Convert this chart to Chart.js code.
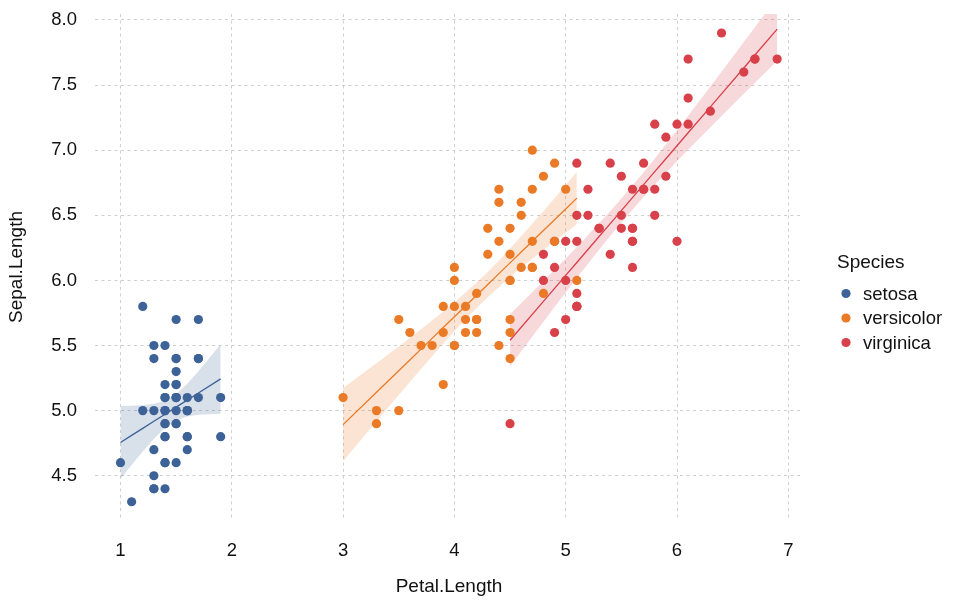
<!DOCTYPE html>
<html>
<head>
<meta charset="utf-8">
<script src="https://cdn.jsdelivr.net/npm/chart.js@4.4.1/dist/chart.umd.min.js"></script>
<style>
  html, body { margin: 0; padding: 0; background: #ffffff; }
  #wrap { width: 960px; height: 600px; }
</style>
</head>
<body>
<div id="wrap"><canvas id="c" width="960" height="600"></canvas></div>
<script>
// ---- Data (iris: Petal.Length vs Sepal.Length) ----
const species = ['setosa', 'versicolor', 'virginica'];
const speciesColors = ['#3d6297', '#eb7a26', '#d8404a'];

const setosaPetal = [1.4,1.4,1.3,1.5,1.4,1.7,1.4,1.5,1.4,1.5,1.5,1.6,1.4,1.1,1.2,1.5,1.3,1.4,1.7,1.5,1.7,1.5,1.0,1.7,1.9,1.6,1.6,1.5,1.4,1.6,1.6,1.5,1.5,1.4,1.5,1.2,1.3,1.4,1.3,1.5,1.3,1.3,1.3,1.6,1.9,1.4,1.6,1.4,1.5,1.4];
const setosaSepal = [5.1,4.9,4.7,4.6,5.0,5.4,4.6,5.0,4.4,4.9,5.4,4.8,4.8,4.3,5.8,5.7,5.4,5.1,5.7,5.1,5.4,5.1,4.6,5.1,4.8,5.0,5.0,5.2,5.2,4.7,4.8,5.4,5.2,5.5,4.9,5.0,5.5,4.9,4.4,5.1,5.0,4.5,4.4,5.0,5.1,4.8,5.1,4.6,5.3,5.0];

const versicolorPetal = [4.7,4.5,4.9,4.0,4.6,4.5,4.7,3.3,4.6,3.9,3.5,4.2,4.0,4.7,3.6,4.4,4.5,4.1,4.5,3.9,4.8,4.0,4.9,4.7,4.3,4.4,4.8,5.0,4.5,3.5,3.8,3.7,3.9,5.1,4.5,4.5,4.7,4.4,4.1,4.0,4.4,4.6,4.0,3.3,4.2,4.2,4.2,4.3,3.0,4.1];
const versicolorSepal = [7.0,6.4,6.9,5.5,6.5,5.7,6.3,4.9,6.6,5.2,5.0,5.9,6.0,6.1,5.6,6.7,5.6,5.8,6.2,5.6,5.9,6.1,6.3,6.1,6.4,6.6,6.8,6.7,6.0,5.7,5.5,5.5,5.8,6.0,5.4,6.0,6.7,6.3,5.6,5.5,5.5,6.1,5.8,5.0,5.6,5.7,5.7,6.2,5.1,5.7];

const virginicaPetal = [6.0,5.1,5.9,5.6,5.8,6.6,4.5,6.3,5.8,6.1,5.1,5.3,5.5,5.0,5.1,5.3,5.5,6.7,6.9,5.0,5.7,4.9,6.7,4.9,5.7,6.0,4.8,4.9,5.6,5.8,6.1,6.4,5.6,5.1,5.6,6.1,5.6,5.5,4.8,5.4,5.6,5.1,5.1,5.9,5.7,5.2,5.0,5.2,5.4,5.1];
const virginicaSepal = [6.3,5.8,7.1,6.3,6.5,7.6,4.9,7.3,6.7,7.2,6.5,6.4,6.8,5.7,5.8,6.4,6.5,7.7,7.7,6.0,6.9,5.6,7.7,6.3,6.7,7.2,6.2,6.1,6.4,7.2,7.4,7.9,6.4,6.3,6.1,7.7,6.3,6.4,6.0,6.9,6.7,6.9,5.8,6.8,6.7,6.7,6.3,6.5,6.2,5.9];

const xTickValues = [1, 2, 3, 4, 5, 6, 7];
const xTickLabels = ['1', '2', '3', '4', '5', '6', '7'];
const yTickValues = [4.5, 5.0, 5.5, 6.0, 6.5, 7.0, 7.5, 8.0];
const yTickLabels = ['4.5', '5.0', '5.5', '6.0', '6.5', '7.0', '7.5', '8.0'];

const xTitle = 'Petal.Length';
const yTitle = 'Sepal.Length';
const legendTitle = 'Species';

// t quantile (0.975, df = 48) for the 95% confidence band of lm fit
const tCrit = 2.0106;

const petals = [setosaPetal, versicolorPetal, virginicaPetal];
const sepals = [setosaSepal, versicolorSepal, virginicaSepal];

// ---- Linear fit (as geom_smooth(method = "lm")) computed from the data ----
function lmFit(xs, ys) {
  const n = xs.length;
  const mx = xs.reduce((a, b) => a + b, 0) / n;
  const my = ys.reduce((a, b) => a + b, 0) / n;
  let sxx = 0, sxy = 0;
  for (let i = 0; i < n; i++) { sxx += (xs[i] - mx) ** 2; sxy += (xs[i] - mx) * (ys[i] - my); }
  const b = sxy / sxx, a = my - b * mx;
  let rss = 0;
  for (let i = 0; i < n; i++) rss += (ys[i] - (a + b * xs[i])) ** 2;
  const s = Math.sqrt(rss / (n - 2));
  const grid = Array.from(new Set(xs)).sort((p, q) => p - q);
  const fit = [], upper = [], lower = [];
  grid.forEach(x => {
    const yh = a + b * x;
    const se = s * Math.sqrt(1 / n + (x - mx) ** 2 / sxx);
    fit.push({x: x, y: yh});
    upper.push({x: x, y: yh + tCrit * se});
    lower.push({x: x, y: yh - tCrit * se});
  });
  return {fit, upper, lower};
}

function hexA(hex, a) {
  const r = parseInt(hex.slice(1, 3), 16), g = parseInt(hex.slice(3, 5), 16), b = parseInt(hex.slice(5, 7), 16);
  return `rgba(${r},${g},${b},${a})`;
}

const datasets = [];
// points (drawn on top)
species.forEach((sp, i) => {
  datasets.push({
    type: 'scatter', label: sp,
    data: petals[i].map((x, k) => ({x: x, y: sepals[i][k]})),
    backgroundColor: speciesColors[i], borderColor: speciesColors[i],
    borderWidth: 0, pointRadius: 4.6, pointHoverRadius: 4.6, order: 0
  });
});
// fit lines + bands
species.forEach((sp, i) => {
  const m = lmFit(petals[i], sepals[i]);
  datasets.push({
    type: 'line', label: sp + ' fit', data: m.fit,
    borderColor: speciesColors[i], borderWidth: 1.3, pointRadius: 0, fill: false, tension: 0, order: 1
  });
  datasets.push({
    type: 'line', label: sp + ' upper', data: m.upper,
    borderWidth: 0, borderColor: 'rgba(0,0,0,0)', pointRadius: 0,
    backgroundColor: hexA(speciesColors[i], 0.2), fill: '+1', tension: 0, order: 2
  });
  datasets.push({
    type: 'line', label: sp + ' lower', data: m.lower,
    borderWidth: 0, borderColor: 'rgba(0,0,0,0)', pointRadius: 0, fill: false, tension: 0, order: 2
  });
});

const FONT = "'Liberation Sans', Arial, Helvetica, sans-serif";

const legendPlugin = {
  id: 'speciesLegend',
  afterDraw(chart) {
    const ctx = chart.ctx;
    ctx.save();
    ctx.fillStyle = '#111111';
    ctx.font = `19px ${FONT}`;
    ctx.textAlign = 'left';
    ctx.textBaseline = 'middle';
    ctx.fillText(legendTitle, 837, 263);
    species.forEach((sp, i) => {
      const y = 293.5 + i * 24.5;
      ctx.beginPath();
      ctx.fillStyle = speciesColors[i];
      ctx.arc(846, y, 4.6, 0, Math.PI * 2);
      ctx.fill();
      ctx.fillStyle = '#111111';
      ctx.font = `18.5px ${FONT}`;
      ctx.fillText(sp, 863, y + 1);
    });
    ctx.restore();
  }
};

new Chart(document.getElementById('c'), {
  type: 'scatter',
  data: { datasets },
  plugins: [legendPlugin],
  options: {
    responsive: false,
    animation: false,
    devicePixelRatio: 1,
    layout: { padding: { top: 14, right: 157, bottom: 0, left: 0 } },
    plugins: { legend: { display: false }, tooltip: { enabled: false } },
    scales: {
      x: {
        type: 'linear', min: 0.771, max: 7.132,
        afterBuildTicks: s => { s.ticks = xTickValues.map(v => ({value: v})); },
        afterFit: s => { s.height = 80; s.paddingLeft = 0; s.paddingRight = 0; },
        ticks: {
          padding: 20, color: '#111111', font: { family: FONT, size: 18.5 },
          callback: (v) => { const k = xTickValues.indexOf(v); return k >= 0 ? xTickLabels[k] : ''; },
          maxRotation: 0
        },
        grid: { color: '#cfcfcf', lineWidth: 1, drawTicks: false },
        border: { display: false, dash: [3, 3.5] },
        title: { display: true, text: xTitle, color: '#111111', font: { family: FONT, size: 19 }, padding: { top: 0, bottom: 2 } }
      },
      y: {
        type: 'linear', min: 4.16, max: 8.046,
        afterBuildTicks: s => { s.ticks = yTickValues.map(v => ({value: v})); },
        afterFit: s => { s.width = 95; s.paddingTop = 0; s.paddingBottom = 0; },
        ticks: {
          padding: 18, color: '#111111', font: { family: FONT, size: 18.5 },
          callback: (v) => { const k = yTickValues.findIndex(t => Math.abs(t - v) < 1e-9); return k >= 0 ? yTickLabels[k] : ''; }
        },
        grid: { color: '#cfcfcf', lineWidth: 1, drawTicks: false },
        border: { display: false, dash: [3, 3.5] },
        title: { display: true, text: yTitle, color: '#111111', font: { family: FONT, size: 19 }, padding: { top: 5.5, bottom: 0 } }
      }
    }
  }
});
</script>
</body>
</html>
